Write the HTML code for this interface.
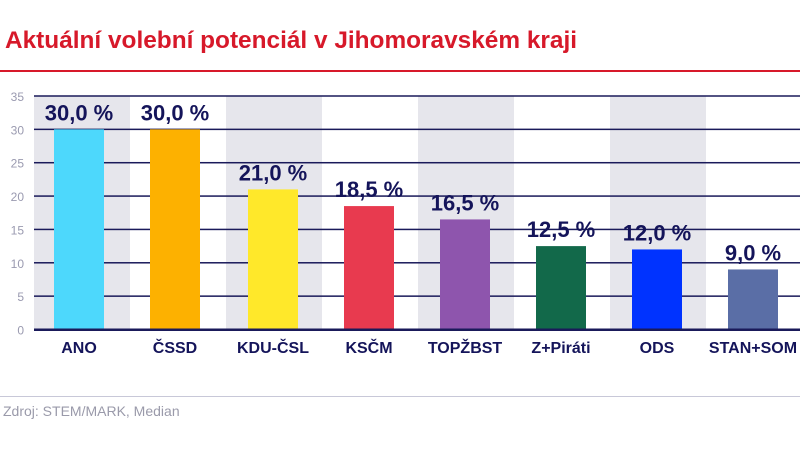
<!DOCTYPE html>
<html><head><meta charset="utf-8"><style>
body{margin:0;width:800px;height:449px;background:#fff;overflow:hidden;font-family:"Liberation Sans",sans-serif}
</style></head><body>
<svg width="800" height="449">
<text x="5" y="48" font-size="24" font-weight="bold" fill="#d7192a" textLength="572" lengthAdjust="spacingAndGlyphs">Aktuální volební potenciál v Jihomoravském kraji</text>
<rect x="0" y="70" width="800" height="2" fill="#d7192a"/>
<g id="bands"></g><g id="grid"></g><g id="bars"></g><g id="labels"></g>
<rect x="0" y="396" width="800" height="1" fill="#c8c8d8"/>
<text x="3" y="416" font-size="14" fill="#9a9aaa">Zdroj: STEM/MARK, Median</text>
</svg>
<script>
const categories=["ANO","ČSSD","KDU-ČSL","KSČM","TOPŽBST","Z+Piráti","ODS","STAN+SOM"];
const values=[30.0,30.0,21.0,18.5,16.5,12.5,12.0,9.0];
const valueLabels=["30,0 %","30,0 %","21,0 %","18,5 %","16,5 %","12,5 %","12,0 %","9,0 %"];
const colors=["#4dd8fc","#fdb100","#ffe82a","#e83a4f","#8e55ad","#12694a","#0033ff","#5a6ea6"];
const yTicks=[0,5,10,15,20,25,30,35];
const NS="http://www.w3.org/2000/svg";
const x0=34,bw=96,y0=329.5,yTop=96,yMax=35;
const y=v=>y0-(v/yMax)*(y0-yTop);
const xb=i=>x0+i*bw;
function mk(t,a,p){const e=document.createElementNS(NS,t);for(const k in a)e.setAttribute(k,a[k]);document.getElementById(p).appendChild(e);return e;}
categories.forEach((c,i)=>{
 if(i%2==0){const b=mk('rect',{x:xb(i),y:yTop,width:bw,height:y0-yTop,fill:'#e6e6ec'},'bands');
 
 }
});
yTicks.forEach(t=>{
 const l=mk('rect',{x:x0,y:y(t)-(t==0?1:0.75),width:800-x0,height:t==0?2.5:1.5,fill:'#1a1a5a'},'grid');
 
 
 const tx=mk('text',{x:24,y:y(t)+5,'font-size':12,'text-anchor':'end',fill:'#9a9ab0'},'grid');
 tx.textContent=t;
 
 
});
categories.forEach((c,i)=>{
 const bx=xb(i)+20+(i>=2?2:0);
 const r=mk('rect',{x:bx,y:y(values[i]),width:50,height:y0-1-y(values[i]),fill:colors[i]},'bars');
 
 
 const v=mk('text',{x:bx+25,y:y(values[i])-9,'font-size':22,'font-weight':'bold','text-anchor':'middle',fill:'#14145a'},'labels');
 v.textContent=valueLabels[i];
 
 
 const cl=mk('text',{x:bx+25,y:353,'font-size':16,'font-weight':'bold','text-anchor':'middle',fill:'#14145a'},'labels');
 cl.textContent=c;
 
 
});
</script>
</body></html>
